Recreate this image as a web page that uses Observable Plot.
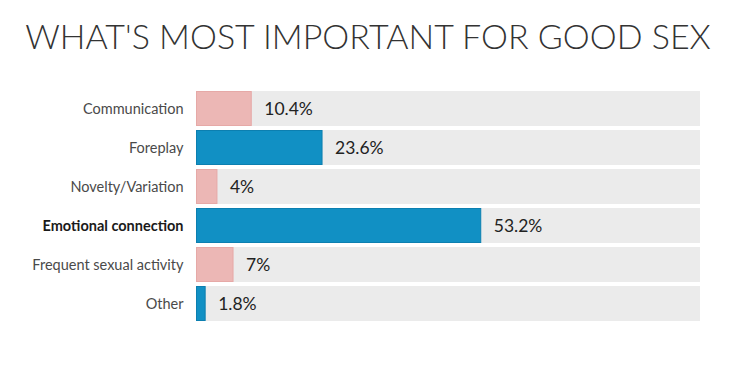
<!DOCTYPE html>
<html>
<head>
<meta charset="utf-8">
<script src="https://cdn.jsdelivr.net/npm/d3@7"></script>
<script src="https://cdn.jsdelivr.net/npm/@observablehq/plot@0.6"></script>
<style>
  html, body { margin: 0; padding: 0; background: #fff; }
  #title { height: 72px; box-sizing: border-box; padding-top: 15px; text-align: center; white-space: nowrap;
    font-family: Lato, "Open Sans", sans-serif; font-weight: 300; font-size: 34px; color: #333; line-height: 42px; }
  #chart svg { display: block; }
</style>
</head>
<body>
<div id="title">WHAT'S MOST IMPORTANT FOR GOOD SEX</div>
<div id="chart"></div>
<script>
const categories = ["Communication", "Foreplay", "Novelty/Variation", "Emotional connection", "Frequent sexual activity", "Other"];
const values = [10.4, 23.6, 4, 53.2, 7, 1.8];
const valueLabels = ["10.4%", "23.6%", "4%", "53.2%", "7%", "1.8%"];
const highlighted = "Emotional connection";
const xMax = 94;

const data = categories.map((c, i) => ({category: c, value: values[i], label: valueLabels[i], idx: i}));
const pink = "#ecb7b5", pinkEdge = "#e6a9a7";
const blue = "#1190c4", blueEdge = "#0c7fb0";

const chart = Plot.plot({
  width: 736,
  height: 316,
  marginTop: 13,
  marginBottom: 61,
  marginLeft: 196,
  marginRight: 36,
  x: {domain: [0, xMax], axis: null},
  y: {domain: categories, padding: 0.1, axis: null},
  style: {fontFamily: "Lato, 'Open Sans', sans-serif"},
  marks: [
    Plot.barX(data, {y: "category", x1: 0, x2: xMax, fill: "#ebebeb"}),
    Plot.barX(data, {y: "category", x: "value",
      fill: d => d.idx % 2 ? blue : pink,
      stroke: d => d.idx % 2 ? blueEdge : pinkEdge, strokeWidth: 1, insetLeft: 0.5, insetRight: 0.5, insetTop: 0.5, insetBottom: 0.5}),
    Plot.text(data.filter(d => d.category !== highlighted), {y: "category", x: 0, text: "category", textAnchor: "end", dx: -13, fontSize: 14.5, fill: "#4a4a4a"}),
    Plot.text(data.filter(d => d.category === highlighted), {y: "category", x: 0, text: "category", textAnchor: "end", dx: -13, fontSize: 14.5, fontWeight: "bold", fill: "#1a1a1a"}),
    Plot.text(data, {y: "category", x: "value", text: "label", textAnchor: "start", dx: 12, fontSize: 17.5, fill: "#222"})
  ]
});
document.getElementById("chart").append(chart);
</script>
</body>
</html>
